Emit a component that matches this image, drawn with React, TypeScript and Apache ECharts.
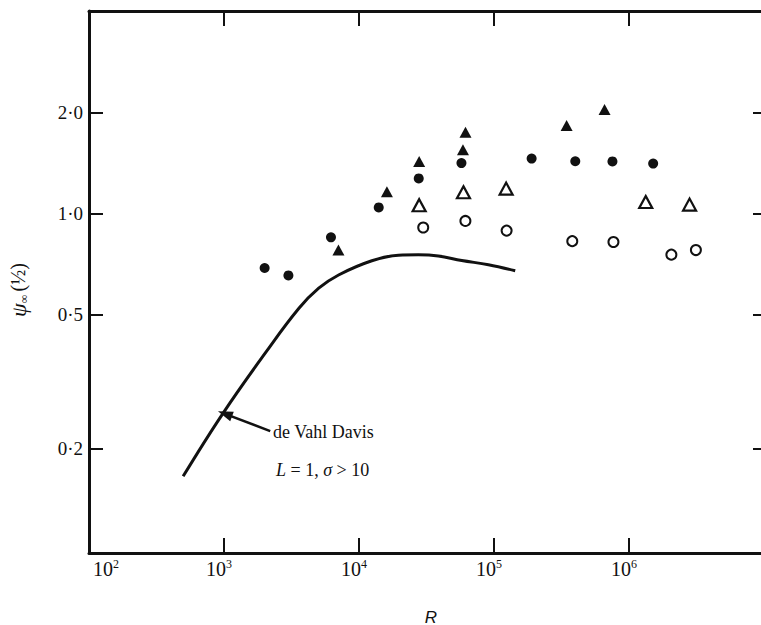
import React, { useEffect, useRef } from "react";
import * as echarts from "echarts";

// Filled circles
const filledCircleR = [2000, 3000, 6200, 14000, 27700, 57400, 190000, 400000, 754000, 1510000];
const filledCircleP = [0.689, 0.655, 0.85, 1.043, 1.272, 1.413, 1.457, 1.431, 1.429, 1.408];
// Filled triangles
const filledTriR = [7040, 16100, 27900, 58900, 61500, 345000, 659000];
const filledTriP = [0.78, 1.162, 1.428, 1.548, 1.744, 1.828, 2.037];
// Open triangles
const openTriR = [27900, 59400, 123000, 1330000, 2810000];
const openTriP = [1.059, 1.157, 1.186, 1.082, 1.063];
// Open circles
const openCircleR = [29900, 61400, 124000, 380000, 767000, 2060000, 3130000];
const openCircleP = [0.909, 0.951, 0.89, 0.828, 0.823, 0.755, 0.779];
// de Vahl Davis curve
const curveR = [498, 977, 2050, 3590, 5030, 7060, 12450, 19600, 27500, 38700, 57700, 90900, 143600];
const curveP = [0.1656, 0.254, 0.388, 0.523, 0.6, 0.657, 0.724, 0.752, 0.754, 0.748, 0.725, 0.705, 0.676];
// Arrow annotation (tail -> head)
const arrowR = [2200, 1017];
const arrowP = [0.2256, 0.254];

// Ticks
const xTickVals = [1e3, 1e4, 1e5, 1e6];
const xLabelVals = [1e2, 1e3, 1e4, 1e5, 1e6];
const yTickVals = [0.2, 0.5, 1, 2];

const INK = "#111";
const SERIF = "'Liberation Serif', 'DejaVu Serif', serif";

const pairs = (a: number[], b: number[]) => a.map((v, i) => [v, b[i]]);

export default function App() {
  const ref = useRef<HTMLDivElement>(null);

  useEffect(() => {
    if (!ref.current) return;
    const chart = echarts.init(ref.current, null, { renderer: "svg" });

    const xLabelFmt = (v: number) => {
      const e = Math.round(Math.log10(v));
      if (e === 2) return `{f|10}{s|${e}}`;
      return `{b|10}{s|${e}}`;
    };
    const yLabelFmt = (v: number) => v.toFixed(1).replace(".", "·");

    const axisLine = { show: true, lineStyle: { color: INK, width: 3 } };

    chart.setOption({
      animation: false,
      backgroundColor: "#fff",
      grid: {
        left: 89,
        right: -3,
        top: 11,
        bottom: 72,
        containLabel: false,
        outerBoundsMode: "none",
      },
      xAxis: [
        {
          type: "log",
          min: 100,
          max: 1e7,
          position: "bottom",
          axisLine,
          axisTick: {
            show: true,
            inside: true,
            length: 15,
            customValues: xTickVals,
            lineStyle: { color: INK, width: 2 },
          },
          axisLabel: {
            show: true,
            customValues: xLabelVals,
            formatter: xLabelFmt,
            margin: 5,
            padding: [0, 10, 0, 0],
            color: INK,
            rich: {
              b: { fontFamily: SERIF, fontSize: 20, lineHeight: 22, color: INK },
              f: { fontFamily: SERIF, fontSize: 20, lineHeight: 22, color: INK, padding: [0, 0, 0, 44] },
              s: { fontFamily: SERIF, fontSize: 12, lineHeight: 12, verticalAlign: "top", color: INK },
            },
          },
          splitLine: { show: false },
          minorTick: { show: false },
        },
        {
          type: "log",
          min: 100,
          max: 1e7,
          position: "top",
          axisLine,
          axisTick: {
            show: true,
            inside: true,
            length: 15,
            customValues: xTickVals,
            lineStyle: { color: INK, width: 2 },
          },
          axisLabel: { show: false },
          splitLine: { show: false },
        },
      ],
      yAxis: [
        {
          type: "log",
          min: 0.098,
          max: 4,
          position: "left",
          axisLine,
          axisTick: {
            show: true,
            inside: true,
            length: 14,
            customValues: yTickVals,
            lineStyle: { color: INK, width: 2 },
          },
          axisLabel: {
            show: true,
            customValues: yTickVals,
            formatter: yLabelFmt,
            margin: 6,
            fontFamily: SERIF,
            fontSize: 19,
            color: INK,
          },
          splitLine: { show: false },
        },
        {
          type: "log",
          min: 0.098,
          max: 4,
          position: "right",
          axisLine: { show: false },
          axisTick: {
            show: true,
            inside: true,
            length: 11,
            customValues: yTickVals,
            lineStyle: { color: INK, width: 2 },
          },
          axisLabel: { show: false },
          splitLine: { show: false },
        },
      ],
      series: [
        {
          type: "line",
          data: pairs(curveR, curveP),
          symbol: "none",
          smooth: 0.4,
          lineStyle: { color: INK, width: 3 },
          silent: true,
          markLine: {
            silent: true,
            symbol: ["none", "triangle"],
            symbolSize: [10, 15],
            label: { show: false },
            lineStyle: { color: INK, width: 2.5, type: "solid", opacity: 1 },
            data: [
              [
                { coord: [arrowR[0], arrowP[0]] },
                { coord: [arrowR[1], arrowP[1]] },
              ],
            ],
          },
        },
        {
          type: "scatter",
          data: pairs(filledCircleR, filledCircleP),
          symbol: "circle",
          symbolSize: 10,
          itemStyle: { color: INK, opacity: 1 },
        },
        {
          type: "scatter",
          data: pairs(filledTriR, filledTriP),
          symbol: "triangle",
          symbolSize: [12, 11],
          itemStyle: { color: INK, opacity: 1 },
        },
        {
          type: "scatter",
          data: pairs(openTriR, openTriP),
          symbol: "triangle",
          symbolSize: [13, 12],
          itemStyle: { color: "#fff", borderColor: INK, borderWidth: 2.2, opacity: 1 },
        },
        {
          type: "scatter",
          data: pairs(openCircleR, openCircleP),
          symbol: "circle",
          symbolSize: 10,
          itemStyle: { color: "#fff", borderColor: INK, borderWidth: 2, opacity: 1 },
        },
      ],
      graphic: [
        {
          type: "text",
          x: 273,
          y: 432,
          style: {
            text: "de Vahl Davis",
            font: `18px ${SERIF}`,
            fill: INK,
            textVerticalAlign: "middle",
          },
        },
        {
          type: "text",
          x: 276,
          y: 470,
          style: {
            text: "{i|L} = 1, {i|σ} > 10",
            font: `18px ${SERIF}`,
            fill: INK,
            textVerticalAlign: "middle",
            rich: {
              i: { fontFamily: SERIF, fontSize: 18, fontStyle: "italic", fill: INK },
            },
          },
        },
        {
          type: "text",
          x: 18,
          y: 290,
          rotation: Math.PI / 2,
          style: {
            text: "{p|ψ}{sub|∞} {q|(½)}",
            fill: INK,
            align: "center",
            verticalAlign: "middle",
            rich: {
              p: { fontFamily: SERIF, fontSize: 22, fontStyle: "italic", fill: INK, lineHeight: 24 },
              sub: { fontFamily: SERIF, fontSize: 12, fill: INK, verticalAlign: "bottom", lineHeight: 12 },
              q: { fontFamily: SERIF, fontSize: 20, fill: INK, lineHeight: 24 },
            },
          },
        },
        {
          type: "text",
          x: 431,
          y: 617,
          style: {
            text: "R",
            font: "italic 17px 'Liberation Sans', Arial, sans-serif",
            fill: INK,
            align: "center",
            verticalAlign: "middle",
          },
        },
      ],
    });

    return () => chart.dispose();
  }, []);

  return (
    <div
      ref={ref}
      style={{
        position: "absolute",
        left: 0,
        top: 0,
        width: 761,
        height: 625,
        overflow: "hidden",
        background: "#fff",
      }}
    />
  );
}
